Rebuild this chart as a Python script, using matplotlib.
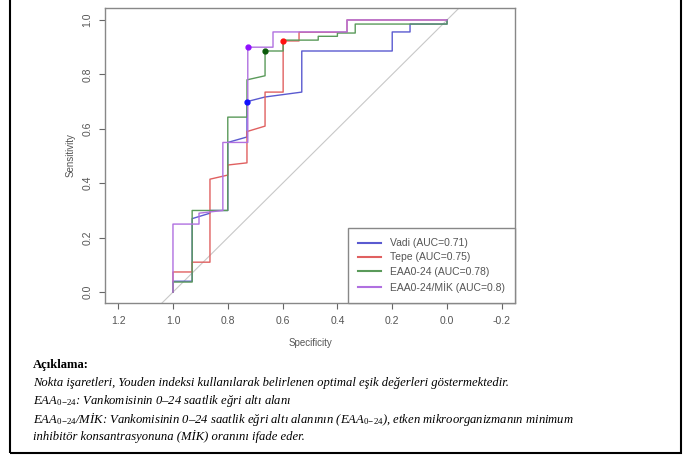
import matplotlib
matplotlib.use("Agg")
import matplotlib.pyplot as plt
from matplotlib.patches import Rectangle
from matplotlib.lines import Line2D

# ROC step curves (specificity, sensitivity)
vadi_spec = [1.0, 1.0, 0.93, 0.93, 0.865, 0.865, 0.80, 0.80, 0.73, 0.73, 0.664, 0.53, 0.53, 0.20, 0.20, 0.135, 0.135, 0.0, 0.0]
vadi_sens = [0.0, 0.04, 0.04, 0.27, 0.29, 0.30, 0.30, 0.55, 0.57, 0.70, 0.717, 0.735, 0.886, 0.886, 0.956, 0.956, 0.985, 0.985, 1.0]

tepe_spec = [1.0, 1.0, 0.93, 0.93, 0.865, 0.865, 0.80, 0.80, 0.73, 0.73, 0.664, 0.664, 0.598, 0.598, 0.54, 0.54, 0.365, 0.365, 0.0]
tepe_sens = [0.0, 0.074, 0.074, 0.11, 0.11, 0.415, 0.43, 0.467, 0.475, 0.59, 0.61, 0.735, 0.735, 0.923, 0.923, 0.955, 0.955, 1.0, 1.0]

eaa_spec = [1.0, 1.0, 0.93, 0.93, 0.80, 0.80, 0.73, 0.73, 0.664, 0.664, 0.598, 0.598, 0.47, 0.47, 0.40, 0.40, 0.335, 0.335, 0.0, 0.0]
eaa_sens = [0.0, 0.037, 0.037, 0.30, 0.30, 0.643, 0.643, 0.78, 0.795, 0.886, 0.886, 0.926, 0.926, 0.94, 0.94, 0.952, 0.952, 0.985, 0.985, 1.0]

mik_spec = [1.0, 1.0, 0.905, 0.905, 0.818, 0.818, 0.727, 0.727, 0.635, 0.635, 0.365, 0.365, 0.0]
mik_sens = [0.0, 0.25, 0.25, 0.29, 0.30, 0.55, 0.55, 0.90, 0.90, 0.956, 0.956, 1.0, 1.0]

# Youden optimal points
opt_spec = [0.73, 0.598, 0.664, 0.727]
opt_sens = [0.70, 0.923, 0.886, 0.90]

labels = ["Vadi (AUC=0.71)", "Tepe (AUC=0.75)", "EAA0-24 (AUC=0.78)", "EAA0-24/MİK (AUC=0.8)"]
line_colors = ["#5a5ad0", "#e06060", "#5a9a5a", "#b070e0"]
dot_colors = ["#1010ff", "#ff1010", "#0a5a0a", "#9010ff"]

x_ticks = [1.2, 1.0, 0.8, 0.6, 0.4, 0.2, 0.0, -0.2]
y_ticks = [0.0, 0.2, 0.4, 0.6, 0.8, 1.0]

plt.rcParams["font.family"] = ["Liberation Sans", "DejaVu Sans"]
plt.rcParams["mathtext.fontset"] = "custom"
plt.rcParams["mathtext.rm"] = "Liberation Serif"
plt.rcParams["mathtext.it"] = "Liberation Serif:italic"

fig = plt.figure(figsize=(6.89, 4.63), dpi=100)
W, H = 689, 463
ax = fig.add_axes([105 / W, 1 - 303 / H, 410 / W, 295 / H])

ax.plot([1.1, -0.1], [-0.1, 1.1], color="#c8c8c8", lw=0.8, zorder=1)

curves = [(vadi_spec, vadi_sens), (tepe_spec, tepe_sens), (eaa_spec, eaa_sens), (mik_spec, mik_sens)]
for (sx, sy), c, lab in zip(curves, line_colors, labels):
    ax.plot(sx, sy, color=c, lw=1.0, label=lab, zorder=2)

for xs, ys, c in zip(opt_spec, opt_sens, dot_colors):
    ax.plot(xs, ys, "o", color=c, markersize=3.5, zorder=3)

ax.set_xlim(1.248, -0.248)
ax.set_ylim(-0.04, 1.044)
ax.set_xticks(x_ticks)
ax.set_yticks(y_ticks)
ax.set_xticklabels([f"{v:.1f}" for v in x_ticks])
ax.set_yticklabels([f"{v:.1f}" for v in y_ticks], rotation=90, va="center")
ax.tick_params(colors="#666666", labelcolor="#555555", labelsize=7.5, length=4, width=0.8, pad=5)
for s in ax.spines.values():
    s.set_color("#888888")
    s.set_linewidth(1.0)

ax.set_xlabel("Specificity", fontsize=7, color="#555555", labelpad=9)
ax.set_ylabel("Sensitivity", fontsize=7, color="#555555", labelpad=5)

handles = [Line2D([0], [0], color=c, lw=1.5) for c in line_colors]
leg = ax.legend(handles, labels, loc="lower right", borderaxespad=0, fancybox=False,
                edgecolor="#888888", fontsize=7.5, handlelength=2.2, borderpad=1.0,
                labelspacing=0.4, handletextpad=0.8, framealpha=1)
leg.get_frame().set_linewidth(1.0)
for t in leg.get_texts():
    t.set_color("#555555")

# outer frame
fig.add_artist(Rectangle((10 / W, 1 - 453 / H), 671 / W, 453 / H + 0.05,
                         transform=fig.transFigure, fill=False, edgecolor="black",
                         lw=1.5, clip_on=False))

serif = ["Liberation Serif", "DejaVu Serif"]
fs = 9.1
tx = 33 / W
sub = r"$_{0\!-\!24}$"
fig.text(tx, 1 - 365 / H, "Açıklama:", family=serif, weight="bold", fontsize=fs, va="center")
fig.text(tx, 1 - 383 / H, "Nokta işaretleri, Youden indeksi kullanılarak belirlenen optimal eşik değerleri göstermektedir.",
         family=serif, style="italic", fontsize=fs, va="center")
fig.text(tx, 1 - 401 / H, "EAA" + sub + ": Vankomisinin 0–24 saatlik eğri altı alanı",
         family=serif, style="italic", fontsize=fs, va="center")
fig.text(tx, 1 - 419 / H, "EAA" + sub + "/MİK: Vankomisinin 0–24 saatlik eğri altı alanının (EAA" + sub
         + "), etken mikroorganizmanın minimum",
         family=serif, style="italic", fontsize=fs, va="center")
fig.text(tx, 1 - 436 / H, "inhibitör konsantrasyonuna (MİK) oranını ifade eder.",
         family=serif, style="italic", fontsize=fs, va="center")

fig.savefig("out.png", dpi=100)
